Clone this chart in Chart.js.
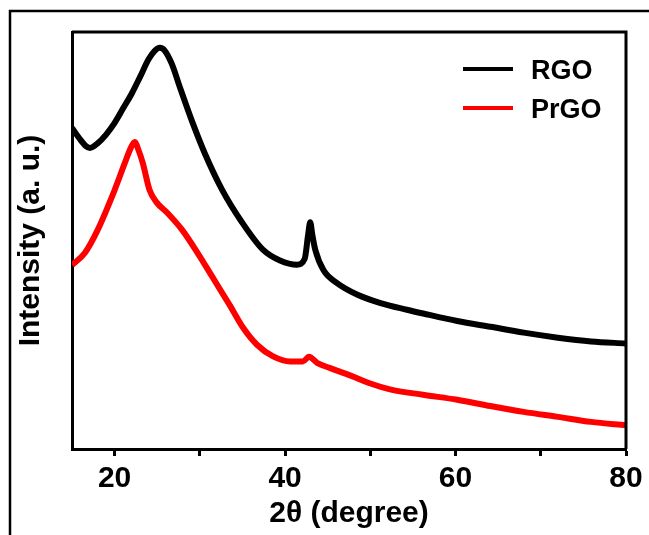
<!DOCTYPE html>
<html>
<head>
<meta charset="utf-8">
<script src="https://cdn.jsdelivr.net/npm/chart.js@4.4.1/dist/chart.umd.min.js"></script>
<style>
  body { margin: 0; background: #fff; }
  canvas { display: block; }
</style>
</head>
<body>
<canvas id="xrd" width="649" height="535"></canvas>
<script>
// ====== data ======
const seriesNames = ['RGO', 'PrGO'];
const seriesColors = ['#000000', '#ff0000'];

const thetaRGO = [15.0, 15.9, 16.6, 17.1, 18.0, 19.0, 20.0, 21.0, 22.0, 23.0, 24.0, 24.7, 25.3, 25.9, 26.7, 27.7,
  29.1, 30.6, 32.6, 34.9, 37.4, 39.4, 41.4, 42.3, 42.7, 42.95, 43.2, 43.55, 44.5, 46.1, 48.5, 51.2,
  54.3, 56.2, 60.2, 64.1, 68.0, 72.0, 75.9, 80.0];
const intensityRGO = [770, 744, 727, 722, 733, 754, 782, 817, 852, 893, 935, 955, 962, 955, 924, 865,
  785, 708, 622, 545, 478, 452, 442, 456, 513, 544, 513, 477, 429, 398, 370, 350,
  334, 325, 307, 293, 279, 267, 258, 253];

const thetaPrGO = [15.0, 16.5, 18.0, 20.0, 21.2, 21.9, 22.35, 22.8, 23.3, 24.1, 24.9, 26.2, 27.9, 29.8, 31.4,
  33.5, 35.1, 36.7, 38.6, 40.6, 42.1, 42.8, 43.8, 45.3, 47.7, 50.0, 52.3, 56.2, 60.2, 64.1, 68.0, 72.0, 75.9, 80.0];
const intensityPrGO = [441, 470, 525, 621, 686, 722, 736, 717, 686, 621, 592, 566, 526, 468, 415,
  345, 290, 250, 222, 210, 210, 221, 206, 194, 176, 157, 143, 130, 118, 103, 89, 77, 65, 57];

const xTicks = [20, 30, 40, 50, 60, 70, 80];

const FONT = "'Liberation Sans', Arial, sans-serif";

function toPoints(xs, ys) {
  return xs.map((x, i) => ({ x: x, y: ys[i] }));
}

// box top/right, the outer figure frame and the legend
const framePlugin = {
  id: 'frame',
  afterDraw(chart) {
    const { ctx, chartArea: a } = chart;
    ctx.save();
    ctx.strokeStyle = '#000';
    ctx.lineWidth = 3;
    ctx.beginPath();
    ctx.moveTo(a.left, a.top);
    ctx.lineTo(a.right, a.top);
    ctx.lineTo(a.right, a.bottom);
    ctx.stroke();

    ctx.lineWidth = 2.5;
    ctx.beginPath();
    ctx.moveTo(10, chart.height);
    ctx.lineTo(10, 11);
    ctx.lineTo(chart.width, 11);
    ctx.stroke();

    // legend
    ctx.font = 'bold 27px ' + FONT;
    ctx.textBaseline = 'alphabetic';
    ctx.textAlign = 'left';
    chart.data.datasets.forEach((ds, i) => {
      const y = 69 + i * 39;
      ctx.strokeStyle = ds.borderColor;
      ctx.lineWidth = 4;
      ctx.beginPath();
      ctx.moveTo(463, y);
      ctx.lineTo(513, y);
      ctx.stroke();
      ctx.fillStyle = '#000';
      ctx.fillText(ds.label, 531, y + 10);
    });
    ctx.restore();
  }
};

new Chart(document.getElementById('xrd').getContext('2d'), {
  type: 'line',
  data: {
    datasets: [{
      label: seriesNames[0],
      data: toPoints(thetaRGO, intensityRGO),
      borderColor: seriesColors[0],
      borderWidth: 6,
      pointRadius: 0,
      cubicInterpolationMode: 'monotone'
    }, {
      label: seriesNames[1],
      data: toPoints(thetaPrGO, intensityPrGO),
      borderColor: seriesColors[1],
      borderWidth: 6,
      pointRadius: 0,
      cubicInterpolationMode: 'monotone'
    }]
  },
  options: {
    responsive: false,
    animation: false,
    layout: { padding: { left: 0, top: 32, right: 23, bottom: 0 } },
    plugins: {
      legend: { display: false },
      tooltip: { enabled: false }
    },
    scales: {
      x: {
        type: 'linear',
        min: 15,
        max: 80,
        afterBuildTicks: s => { s.ticks = xTicks.map(v => ({ value: v })); },
        afterFit: s => { s.height = 86; },
        grid: { drawOnChartArea: false, drawTicks: true, tickLength: 7, tickWidth: 3, tickColor: '#000' },
        border: { display: true, color: '#000', width: 3 },
        ticks: {
          color: '#000',
          padding: 5,
          maxRotation: 0,
          autoSkip: false,
          font: { family: FONT, size: 30, weight: 'bold' },
          callback: v => (v % 20 === 0 ? v : '')
        },
        title: {
          display: true,
          text: '2θ (degree)',
          color: '#000',
          padding: { top: 0, bottom: 3 },
          font: { family: FONT, size: 30, weight: 'bold' }
        }
      },
      y: {
        min: 0,
        max: 1000,
        afterFit: s => { s.width = 72; },
        grid: { display: false },
        border: { display: true, color: '#000', width: 3 },
        ticks: { display: false },
        title: {
          display: true,
          text: 'Intensity (a. u.)',
          color: '#000',
          padding: { top: 13, bottom: 0 },
          font: { family: FONT, size: 30, weight: 'bold' }
        }
      }
    }
  },
  plugins: [framePlugin]
});
</script>
</body>
</html>
